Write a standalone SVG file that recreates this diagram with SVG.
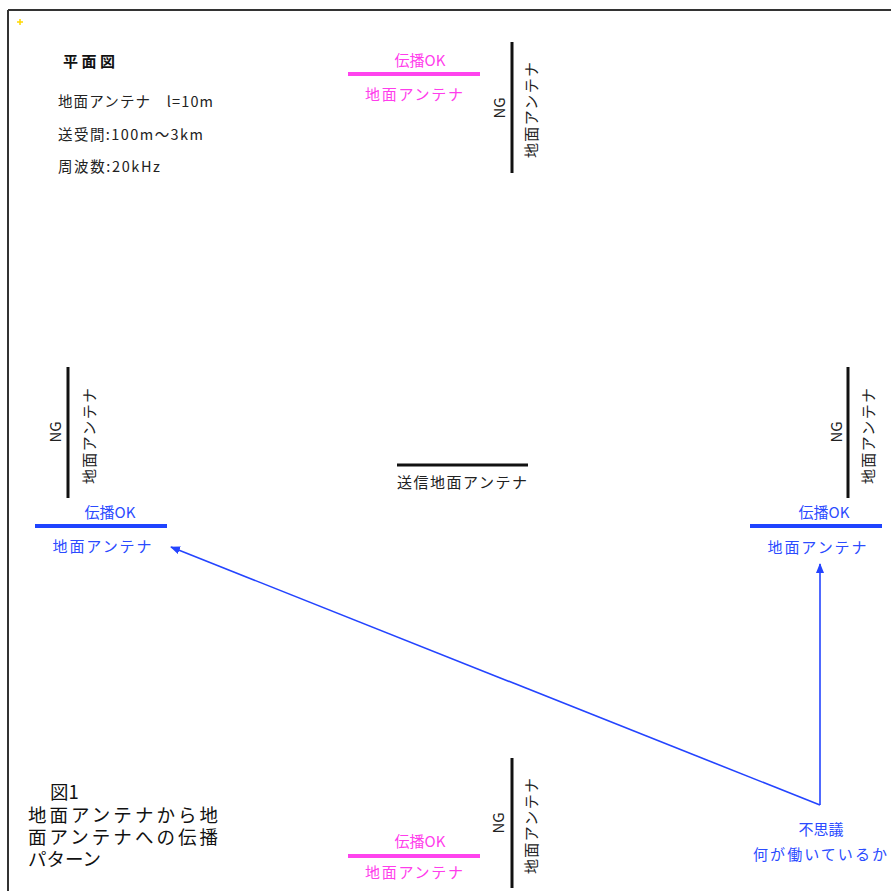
<svg xmlns="http://www.w3.org/2000/svg" width="891" height="891" viewBox="0 0 891 891">
<defs>
<style>
text{font-family:"Noto Sans CJK JP","Noto Sans",sans-serif;}
.k{fill:#222;font-size:14.5px;}
.t{fill:#111;font-size:15px;font-weight:bold;}
.p{fill:#ff3dec;font-size:15px;}
.b{fill:#2b4bff;font-size:15px;}
.v{fill:#222;font-size:15px;}
.cap{fill:#111;font-size:18.5px;}
.ant{stroke:#111;stroke-width:3;}
.pl{stroke:#ff44ee;stroke-width:4;}
.bl{stroke:#1f44ff;stroke-width:4;}
.con{stroke:#2444ff;stroke-width:1.6;fill:none;marker-end:url(#ah);}
</style>
<marker id="ah" viewBox="0 0 10 8" refX="9" refY="4" markerWidth="10" markerHeight="8" markerUnits="userSpaceOnUse" orient="auto">
<path d="M0,0 L10,4 L0,8 Z" fill="#2444ff"/>
</marker>
</defs>
<rect width="891" height="891" fill="#fff"/>
<g id="frame">
<line x1="8" y1="10" x2="891" y2="10" stroke="#333" stroke-width="2"/>
<line x1="8" y1="10" x2="8" y2="891" stroke="#333" stroke-width="2"/>
<path d="M17,22 h6 M20,19 v6" stroke="#ffd800" stroke-width="1.5"/>
</g>
<g id="legend">
<text class="t" x="63" y="67" textLength="52">平面図</text>
<text class="k" x="58" y="107" textLength="155">地面アンテナ　l=10m</text>
<text class="k" x="58" y="140" textLength="145">送受間:100m～3km</text>
<text class="k" x="58" y="172" textLength="102">周波数:20kHz</text>
</g>
<g id="top">
<line class="pl" x1="348" y1="74" x2="480" y2="74"/>
<text class="p" x="420" y="66" text-anchor="middle">伝播OK</text>
<text class="p" x="414" y="100" text-anchor="middle" textLength="98">地面アンテナ</text>
<line class="ant" x1="512" y1="42" x2="512" y2="173"/>
<text class="v" transform="translate(498,108) rotate(-90)" text-anchor="middle" dominant-baseline="central">NG</text>
<text class="v" transform="translate(530,110) rotate(-90)" text-anchor="middle" dominant-baseline="central" textLength="96">地面アンテナ</text>
</g>
<g id="left">
<line class="ant" x1="68" y1="367" x2="68" y2="498"/>
<text class="v" transform="translate(54,432) rotate(-90)" text-anchor="middle" dominant-baseline="central">NG</text>
<text class="v" transform="translate(88,436) rotate(-90)" text-anchor="middle" dominant-baseline="central" textLength="96">地面アンテナ</text>
<text class="b" x="110" y="518" text-anchor="middle">伝播OK</text>
<line class="bl" x1="35" y1="526" x2="167" y2="526"/>
<text class="b" x="102" y="552" text-anchor="middle" textLength="99">地面アンテナ</text>
</g>
<g id="right">
<line class="ant" x1="848" y1="367" x2="848" y2="498"/>
<text class="v" transform="translate(835,432) rotate(-90)" text-anchor="middle" dominant-baseline="central">NG</text>
<text class="v" transform="translate(867,436) rotate(-90)" text-anchor="middle" dominant-baseline="central" textLength="96">地面アンテナ</text>
<text class="b" x="824" y="518" text-anchor="middle">伝播OK</text>
<line class="bl" x1="750" y1="526" x2="882" y2="526"/>
<text class="b" x="817" y="553" text-anchor="middle" textLength="99">地面アンテナ</text>
</g>
<g id="center">
<line class="ant" x1="397" y1="465" x2="528" y2="465"/>
<text class="v" x="462" y="488" text-anchor="middle" textLength="130">送信地面アンテナ</text>
</g>
<g id="bottom">
<line class="ant" x1="512" y1="758" x2="512" y2="888"/>
<text class="v" transform="translate(497,823) rotate(-90)" text-anchor="middle" dominant-baseline="central">NG</text>
<text class="v" transform="translate(530,826) rotate(-90)" text-anchor="middle" dominant-baseline="central" textLength="96">地面アンテナ</text>
<text class="p" x="420" y="847" text-anchor="middle">伝播OK</text>
<line class="pl" x1="348" y1="856" x2="480" y2="856"/>
<text class="p" x="414" y="878" text-anchor="middle" textLength="98">地面アンテナ</text>
</g>
<g id="note">
<text class="b" x="821" y="835" text-anchor="middle">不思議</text>
<text class="b" x="820" y="860" text-anchor="middle" textLength="134">何が働いているか</text>
</g>
<g id="caption">
<text class="cap" x="50" y="799">図1</text>
<text class="cap" x="28" y="822" textLength="190">地面アンテナから地</text>
<text class="cap" x="28" y="844" textLength="190">面アンテナへの伝播</text>
<text class="cap" x="28" y="866">パターン</text>
</g>
<g id="connectors">
<line class="con" x1="820" y1="805" x2="171" y2="547"/>
<line class="con" x1="820" y1="805" x2="820" y2="564"/>
</g>
</svg>
